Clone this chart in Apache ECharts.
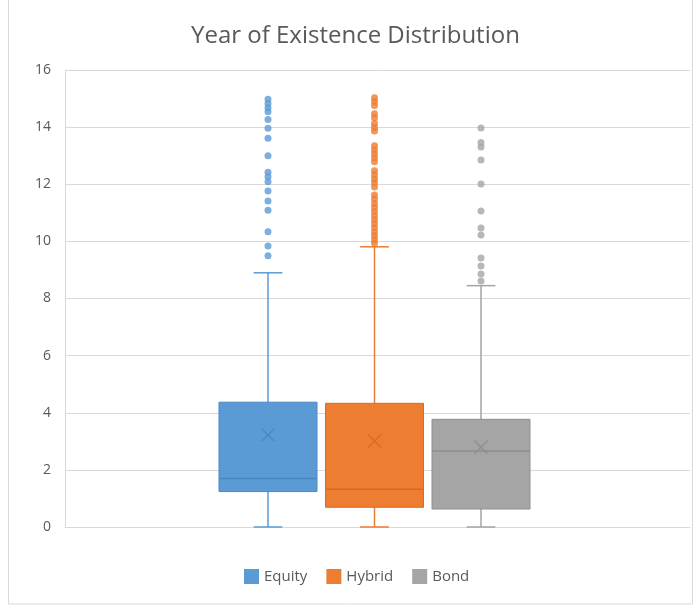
<!DOCTYPE html>
<html>
<head>
<meta charset="utf-8">
<script src="https://cdn.jsdelivr.net/npm/echarts@6/dist/echarts.min.js"></script>
<style>
  html, body { margin: 0; padding: 0; background: #fff; }
  #chart { width: 696px; height: 607px; }
</style>
</head>
<body>
<div id="chart"></div>
<script>
// Fund groups
const groups = ['Equity', 'Hybrid', 'Bond'];

// Value axis ticks (years)
const yTicks = [0, 2, 4, 6, 8, 10, 12, 14, 16];

// Summary per group: [lower whisker, Q1, median, Q3, upper whisker, mean]
const equityStats = [0, 1.24, 1.70, 4.37, 8.90, 3.22];
const hybridStats = [0, 0.69, 1.32, 4.33, 9.81, 3.01];
const bondStats   = [0, 0.63, 2.66, 3.77, 8.45, 2.79];

// Points beyond the whiskers
const equityOutliers = [14.98, 14.83, 14.68, 14.54, 14.27, 13.96, 13.61, 13.00,
  12.42, 12.26, 12.09, 11.76, 11.41, 11.09, 10.34, 9.84, 9.50];
const hybridOutliers = [15.03, 14.90, 14.76, 14.47, 14.33, 14.13, 13.99, 13.86,
  13.35, 13.21, 13.07, 12.93, 12.79, 12.47, 12.33, 12.18, 12.05, 11.90, 11.62,
  11.48, 11.33, 11.19, 11.05, 10.90, 10.76, 10.62, 10.48, 10.33, 10.20, 10.06, 9.93];
const bondOutliers = [13.97, 13.46, 13.30, 12.85, 12.01, 11.06, 10.47, 10.22,
  9.42, 9.14, 8.86, 8.61];

const stats = [equityStats, hybridStats, bondStats];
const outliers = [equityOutliers, hybridOutliers, bondOutliers];
const fills = ['#5B9BD5', '#ED7D31', '#A5A5A5'];
const strokes = ['#4A87C2', '#D86B22', '#8E8E8E'];

const chart = echarts.init(document.getElementById('chart'), null, { renderer: 'canvas' });

// Box, median, whiskers with short caps, and an "x" at the mean
function makeRenderer(idx) {
  return function (params, api) {
    const x = api.value(0);
    const band = api.size([1, 0])[0];
    const half = band * 0.46;
    const capHalf = band * 0.135;
    const pMin = api.coord([x, api.value(1)]);
    const pQ1 = api.coord([x, api.value(2)]);
    const pMed = api.coord([x, api.value(3)]);
    const pQ3 = api.coord([x, api.value(4)]);
    const pMax = api.coord([x, api.value(5)]);
    const pMean = api.coord([x, api.value(6)]);
    const cx = pMin[0];
    const line = (x1, y1, x2, y2, color, w) => ({
      type: 'line',
      shape: { x1: x1, y1: y1, x2: x2, y2: y2 },
      style: { stroke: color, lineWidth: w }
    });
    const m = 6.5;
    return {
      type: 'group',
      children: [
        line(cx, pMax[1], cx, pMin[1], fills[idx], 1.5),
        line(cx - capHalf, pMax[1], cx + capHalf, pMax[1], fills[idx], 1.5),
        line(cx - capHalf, pMin[1], cx + capHalf, pMin[1], fills[idx], 1.5),
        {
          type: 'rect',
          shape: { x: cx - half, y: pQ3[1], width: half * 2, height: pQ1[1] - pQ3[1] },
          style: { fill: fills[idx], stroke: strokes[idx], lineWidth: 1 }
        },
        line(cx - half, pMed[1], cx + half, pMed[1], strokes[idx], 1.5),
        line(cx - m, pMean[1] - m, cx + m, pMean[1] + m, strokes[idx], 1.3),
        line(cx - m, pMean[1] + m, cx + m, pMean[1] - m, strokes[idx], 1.3)
      ]
    };
  };
}

const series = [];
groups.forEach((name, i) => {
  series.push({
    name: name,
    type: 'custom',
    xAxisIndex: 1,
    yAxisIndex: 1,
    renderItem: makeRenderer(i),
    itemStyle: { color: fills[i] },
    encode: { x: 0, y: [1, 2, 3, 4, 5] },
    data: [[i].concat(stats[i])],
    z: 3
  });
  series.push({
    name: name,
    type: 'scatter',
    xAxisIndex: 1,
    yAxisIndex: 1,
    symbol: 'circle',
    symbolSize: 7,
    itemStyle: { color: fills[i] },
    data: outliers[i].map(v => [i, v]),
    z: 4
  });
});

const option = {
  animation: false,
  backgroundColor: '#ffffff',
  textStyle: { fontFamily: 'Open Sans' },
  title: {
    text: 'Year of Existence Distribution',
    left: 186,
    top: 19,
    textStyle: { fontFamily: 'Open Sans', fontSize: 24, fontWeight: 'normal', color: '#595959' }
  },
  legend: {
    data: groups,
    left: 239,
    top: 564,
    icon: 'rect',
    itemWidth: 15,
    itemHeight: 15,
    itemGap: 19,
    textStyle: { fontFamily: 'Open Sans', fontSize: 15, color: '#595959' }
  },
  graphic: [{
    type: 'rect',
    shape: { x: 8.5, y: -2, width: 684, height: 606 },
    style: { fill: 'none', stroke: '#D9D9D9', lineWidth: 1 },
    silent: true
  }],
  grid: [
    { left: 65, right: 6, top: 70, bottom: 80 },
    { left: 214.75, width: 319.5, top: 70, bottom: 80 }
  ],
  xAxis: [
    {
      gridIndex: 0,
      type: 'category',
      data: [''],
      axisLine: { lineStyle: { color: '#D9D9D9', width: 1 } },
      axisTick: { show: false },
      axisLabel: { show: false }
    },
    {
      gridIndex: 1,
      type: 'category',
      data: groups,
      show: false
    }
  ],
  yAxis: [
    {
      gridIndex: 0,
      type: 'value',
      min: yTicks[0],
      max: yTicks[yTicks.length - 1],
      interval: yTicks[1] - yTicks[0],
      axisLine: { show: true, lineStyle: { color: '#D9D9D9', width: 1 } },
      axisTick: { show: false },
      splitLine: { lineStyle: { color: '#D9D9D9', width: 1 } },
      axisLabel: { color: '#595959', fontSize: 14, margin: 14, fontFamily: 'Open Sans' }
    },
    {
      gridIndex: 1,
      type: 'value',
      min: yTicks[0],
      max: yTicks[yTicks.length - 1],
      show: false,
      splitLine: { show: false }
    }
  ],
  series: series
};

chart.setOption(option);
</script>
</body>
</html>
